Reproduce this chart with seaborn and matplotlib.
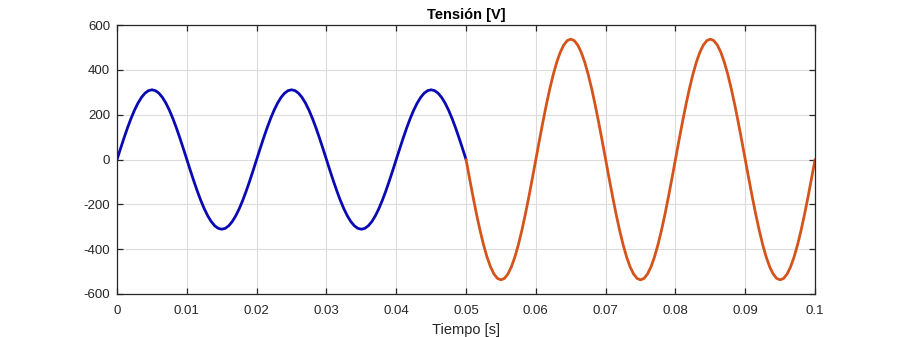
import numpy as np
import pandas as pd
import matplotlib
matplotlib.use("Agg")
import matplotlib.pyplot as plt
import seaborn as sns

# Two voltage segments: 220 V rms then 380 V rms, both at 50 Hz
segment_names = ["220 V", "380 V"]
segment_start = [0.0, 0.05]          # s
segment_end = [0.05, 0.1]            # s
segment_peak = [311.0, 537.0]        # V
segment_freq = [50.0, 50.0]          # Hz
segment_colors = ["#0a0ab4", "#d4541c"]
sample_step = 0.0005                 # s

x_ticks = [0, 0.01, 0.02, 0.03, 0.04, 0.05, 0.06, 0.07, 0.08, 0.09, 0.1]
x_tick_labels = ["0", "0.01", "0.02", "0.03", "0.04", "0.05", "0.06", "0.07", "0.08", "0.09", "0.1"]
y_ticks = [-600, -400, -200, 0, 200, 400, 600]

frames = []
for name, t0, t1, vp, f in zip(segment_names, segment_start, segment_end, segment_peak, segment_freq):
    t = np.arange(t0, t1 + sample_step / 2, sample_step)
    frames.append(pd.DataFrame({"t": t, "v": vp * np.sin(2 * np.pi * f * t), "seg": name}))
df = pd.concat(frames, ignore_index=True)

sns.set_style("white")
plt.rcParams["font.family"] = ["Liberation Sans", "DejaVu Sans"]
plt.rcParams["axes.unicode_minus"] = False

fig = plt.figure(figsize=(9.01, 3.37), dpi=100)
ax = fig.add_axes([0.1299, 0.1276, 0.7747, 0.7982])

sns.lineplot(data=df, x="t", y="v", hue="seg", palette=segment_colors,
             linewidth=2.0, legend=False, ax=ax, estimator=None, sort=False)

ax.set_xlim(0, 0.1)
ax.set_ylim(-600, 600)
ax.set_xticks(x_ticks)
ax.set_xticklabels(x_tick_labels)
ax.set_yticks(y_ticks)
ax.grid(True, color="#dcdcdc", linewidth=0.8)
ax.set_axisbelow(True)
for s in ax.spines.values():
    s.set_visible(True)
    s.set_color("#262626")
    s.set_linewidth(0.9)
ax.tick_params(direction="in", length=4, width=0.9, color="#262626",
               labelsize=9.5, labelcolor="#262626", top=True, right=True,
               bottom=True, left=True)
ax.tick_params(axis="x", pad=8)
ax.tick_params(axis="y", pad=5)
ax.set_xlabel("Tiempo [s]", fontsize=10.5, color="#262626", labelpad=4)
ax.set_ylabel("")
ax.set_title("Tensión [V]", fontsize=10.5, fontweight="bold", color="#000000", pad=4)

fig.savefig("out.png", dpi=100, facecolor="white")
